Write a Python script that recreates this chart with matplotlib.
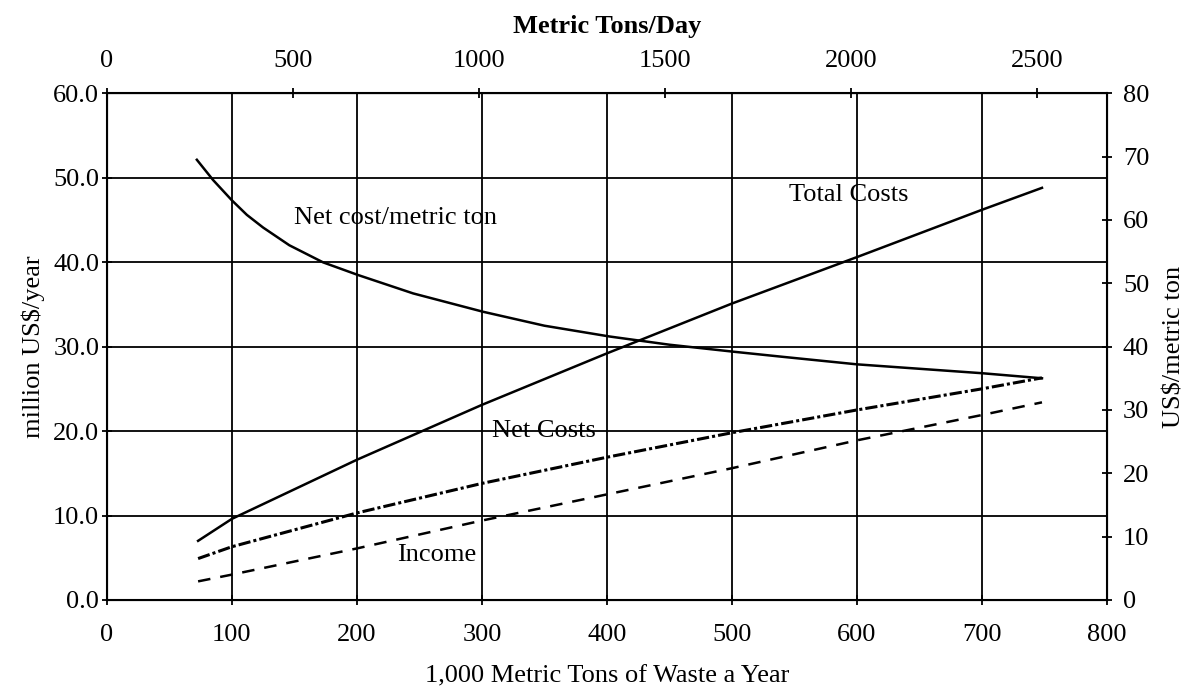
import numpy as np
import matplotlib.pyplot as plt

plt.rcParams['font.family'] = ['Liberation Serif', 'DejaVu Serif']

# thousand metric tons of waste per year
x_kt = [73, 100, 200, 300, 400, 500, 600, 700, 748]

total_costs = [7.0, 9.6, 16.6, 23.1, 29.2, 35.1, 40.6, 46.2, 48.8]
net_costs = [4.9, 6.3, 10.3, 13.8, 16.9, 19.8, 22.5, 25.0, 26.3]
income = [2.2, 3.0, 6.1, 9.4, 12.5, 15.6, 18.9, 21.9, 23.4]

# US$/metric ton (right axis), read at more points since it curves
x_per_ton = [72, 85, 100, 112, 125, 146, 173, 201, 245, 301, 350, 402, 450, 501, 540, 600, 650, 700, 748]
net_cost_per_ton = [69.5, 66.3, 63.1, 60.8, 58.8, 56.0, 53.3, 51.3, 48.4, 45.5, 43.3, 41.6, 40.3,
                    39.2, 38.4, 37.2, 36.5, 35.8, 35.0]

TPD_TO_KT = 0.2976  # metric tons/day -> 1,000 metric tons/year
FS = 19

fig = plt.figure(figsize=(11.87, 6.96), dpi=100)
ax = fig.add_axes([0.090, 0.138, 0.8426, 0.728])

ax.plot(x_kt, total_costs, color='black', lw=1.8)
ax.plot(x_kt, net_costs, color='black', lw=2.2, linestyle=(0, (4, 1, 1, 1)))
ax.plot(x_kt, income, color='black', lw=1.8, linestyle=(0, (5, 4)))

ax.set_xlim(0, 800)
ax.set_ylim(0, 60)
ax.set_xticks(np.arange(0, 801, 100))
ax.set_yticks(np.arange(0, 61, 10))
ax.set_yticklabels([f'{v:.1f}' for v in np.arange(0, 61, 10)])
ax.grid(True, color='black', lw=1.3)
ax.tick_params(direction='inout', length=7, width=1.3, labelsize=FS, colors='black')
ax.tick_params(axis='x', pad=14)
ax.tick_params(axis='y', pad=2)
for s in ax.spines.values():
    s.set_linewidth(1.5)
ax.set_xlabel('1,000 Metric Tons of Waste a Year', fontsize=FS, labelpad=14)
ax.set_ylabel('million US$/year', fontsize=FS, labelpad=6)

ax2 = ax.twinx()
ax2.plot(x_per_ton, net_cost_per_ton, color='black', lw=1.8)
ax2.set_ylim(0, 80)
ax2.set_yticks(np.arange(0, 81, 10))
ax2.tick_params(direction='inout', length=7, width=1.3, labelsize=FS, pad=8)
ax2.set_ylabel('US$/metric ton', fontsize=FS, labelpad=10)

top = ax.secondary_xaxis('top', functions=(lambda x: x / TPD_TO_KT, lambda t: t * TPD_TO_KT))
top.set_xticks(np.arange(0, 2501, 500))
top.tick_params(direction='inout', length=7, width=1.3, labelsize=FS, pad=12)
top.set_xlabel('Metric Tons/Day', fontsize=FS, fontweight='bold', labelpad=12)

ax.text(150, 45.2, 'Net cost/metric ton', fontsize=FS, va='center')
ax.text(546, 48.0, 'Total Costs', fontsize=FS, va='center')
ax.text(308, 20.0, 'Net Costs', fontsize=FS, va='center')
ax.text(232, 5.3, 'Income', fontsize=FS, va='center')

fig.savefig('out.png', dpi=100, facecolor='white')
